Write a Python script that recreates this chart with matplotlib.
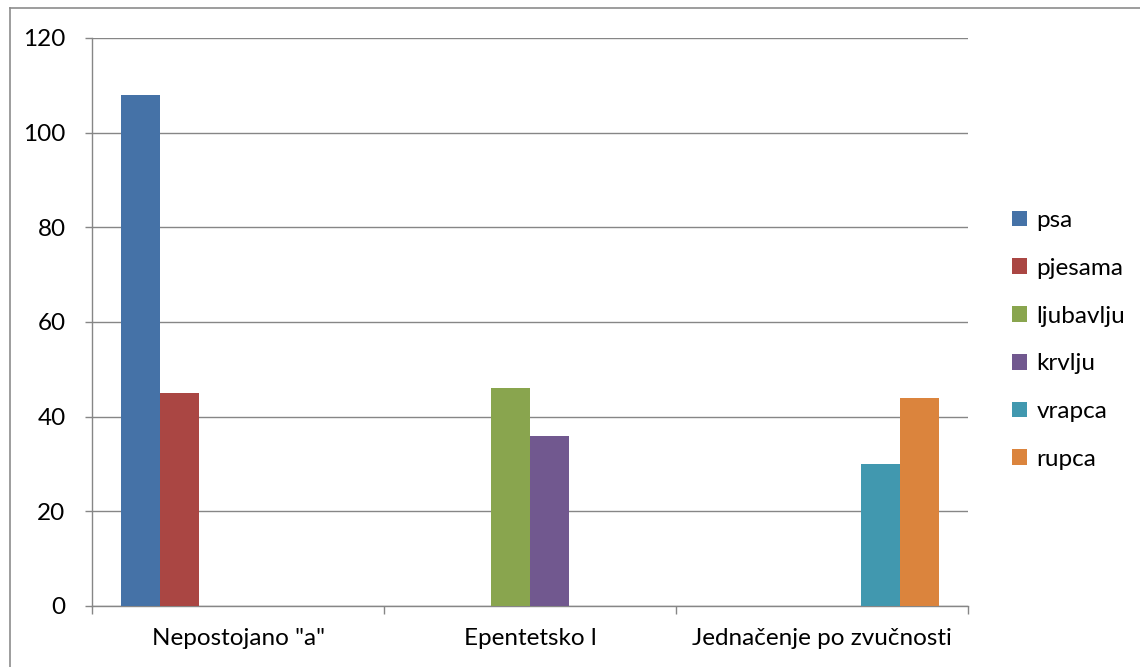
import numpy as np
import matplotlib.pyplot as plt
from matplotlib.lines import Line2D

plt.rcParams['font.family'] = ['Lato', 'DejaVu Sans']

categories = ['Nepostojano "a"', 'Epentetsko l', 'Jednačenje po zvučnosti']
series_names = ['psa', 'pjesama', 'ljubavlju', 'krvlju', 'vrapca', 'rupca']
series_values = [
    [108, 0, 0],   # psa
    [45, 0, 0],    # pjesama
    [0, 46, 0],    # ljubavlju
    [0, 36, 0],    # krvlju
    [0, 0, 30],    # vrapca
    [0, 0, 44],    # rupca
]
colors = ['#4572A7', '#AA4643', '#89A54E', '#71588F', '#4198AF', '#DB843D']
y_ticks = [0, 20, 40, 60, 80, 100, 120]

grid_col = '#868686'
fs = 17.5

fig = plt.figure(figsize=(11.4, 6.67), dpi=100)
ax = fig.add_axes([92 / 1140, 1 - 606 / 667, 876 / 1140, 568 / 667])

# Excel-style clustered bars: gap width 150%
n = len(series_names)
w = 1 / (n + 1.5)
x = np.arange(len(categories))
for i, (name, vals) in enumerate(zip(series_names, series_values)):
    offs = -0.5 + 0.75 * w + (i + 0.5) * w
    ax.bar(x + offs, vals, width=w, color=colors[i], label=name, zorder=3)

ax.set_xlim(-0.5, len(categories) - 0.5)
ax.set_ylim(0, 120)
ax.set_yticks(y_ticks)
ax.yaxis.grid(True, color=grid_col, linewidth=1.0, zorder=0)
ax.tick_params(axis='y', length=5, width=1, color=grid_col, pad=14, labelsize=fs)

ax.set_xticks(np.arange(len(categories) + 1) - 0.5)
ax.set_xticklabels([])
ax.set_xticks(x, minor=True)
ax.set_xticklabels(categories, minor=True)
ax.tick_params(axis='x', which='major', length=6, width=1, color=grid_col)
ax.tick_params(axis='x', which='minor', length=0, pad=16, labelsize=fs)

for s in ['top', 'right']:
    ax.spines[s].set_visible(False)
for s in ['left', 'bottom']:
    ax.spines[s].set_color(grid_col)
    ax.spines[s].set_linewidth(1.0)

ax.legend(loc='center left', bbox_to_anchor=(1002 / 1140, 1 - 340 / 667),
          bbox_transform=fig.transFigure, frameon=False, fontsize=fs,
          handlelength=0.62, handleheight=0.62, handletextpad=0.4,
          labelspacing=1.1, borderaxespad=0)

# outer chart border (partly cut off in the original)
fig.add_artist(Line2D([10 / 1140, 10 / 1140], [0, 1 - 8 / 667],
                      transform=fig.transFigure, color='#8c8c8c', linewidth=1.2))
fig.add_artist(Line2D([10 / 1140, 1], [1 - 8 / 667, 1 - 8 / 667],
                      transform=fig.transFigure, color='#8c8c8c', linewidth=1.2))

fig.savefig('out.png', dpi=100)
